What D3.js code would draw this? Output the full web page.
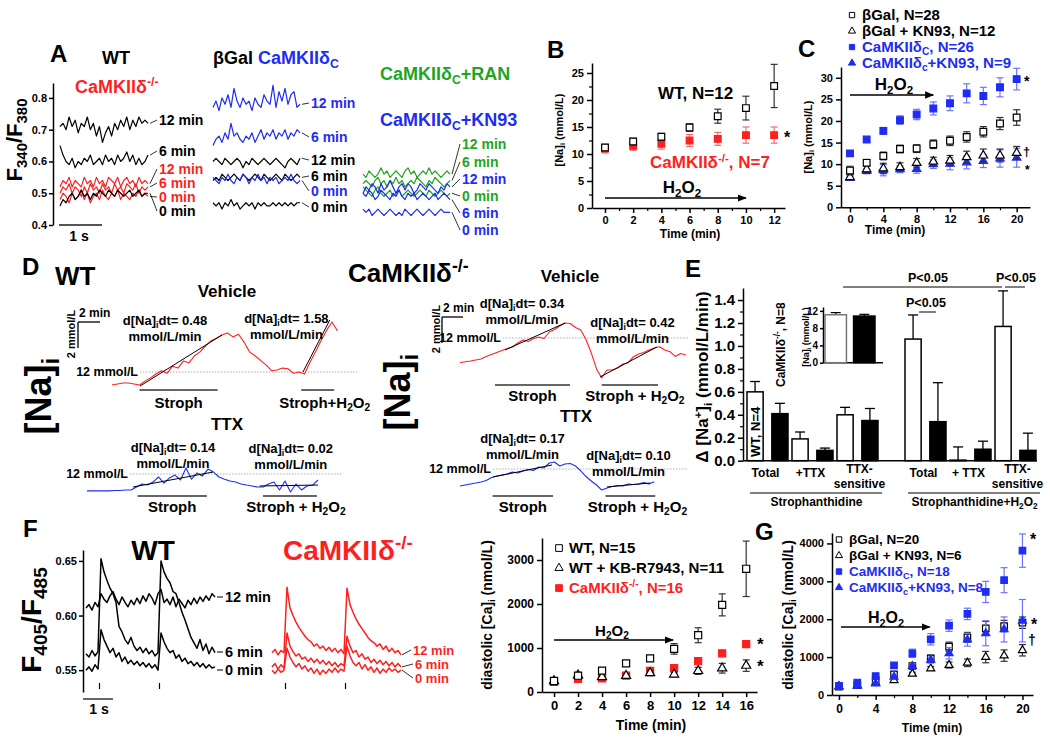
<!DOCTYPE html>
<html>
<head>
<meta charset="utf-8">
<script src="https://cdnjs.cloudflare.com/ajax/libs/d3/7.8.5/d3.min.js"></script>
<style>
  body { margin: 0; background: #fff; }
  svg text { font-family: "Liberation Sans", Arial, sans-serif; font-weight: bold; }
</style>
</head>
<body>
<script>
// Colours used all over the figure
var BLUE = "#1e2cf5", RED = "#ff1f1f", GREEN = "#1fa51f";
var BLUE_E = "#6a75ff", RED_E = "#ff6b6b", BLACK_E = "#333";

// ---------- Panel A: F340/F380 traces (one value per sample) ----------
var aWT12 = [0.71,0.72,0.70,0.74,0.71,0.73,0.69,0.72,0.71,0.74,0.70,0.72,0.68,0.71,0.66,0.69,0.71,0.68,0.72,0.70,0.73,0.71,0.74,0.70,0.73,0.71,0.74,0.72,0.73,0.72];
var aWT6 = [0.65,0.62,0.60,0.59,0.61,0.58,0.60,0.59,0.61,0.60,0.62,0.59,0.60,0.61,0.59,0.62,0.60,0.61,0.59,0.62,0.60,0.61,0.63,0.60,0.62,0.59,0.61,0.59,0.60,0.62];
var aKO12 = [0.52,0.54,0.53,0.55,0.52,0.54,0.53,0.52,0.55,0.53,0.54,0.52,0.55,0.53,0.54,0.52,0.55,0.54,0.53,0.55,0.52,0.54,0.55,0.53,0.54,0.52,0.55,0.53,0.54,0.53];
var aKO6 = [0.50,0.52,0.51,0.53,0.50,0.52,0.51,0.49,0.52,0.50,0.53,0.51,0.52,0.50,0.53,0.51,0.52,0.50,0.53,0.51,0.52,0.50,0.53,0.52,0.51,0.53,0.50,0.52,0.51,0.52];
var aKO0 = [0.48,0.50,0.49,0.47,0.50,0.48,0.49,0.51,0.48,0.50,0.47,0.49,0.50,0.48,0.51,0.49,0.48,0.50,0.49,0.51,0.48,0.50,0.49,0.48,0.50,0.49,0.51,0.49,0.50,0.49];
var aWT0 = [0.46,0.48,0.47,0.49,0.50,0.48,0.49,0.51,0.49,0.50,0.48,0.50,0.49,0.51,0.50,0.49,0.51,0.50,0.49,0.51,0.50,0.49,0.50,0.51,0.49,0.50,0.51,0.49,0.50,0.50];
var aGal12 = [0.60,0.61,0.60,0.59,0.61,0.60,0.59,0.60,0.61,0.60,0.58,0.60,0.59,0.61,0.60,0.59,0.60,0.61,0.60,0.59,0.60,0.61,0.60,0.59,0.58,0.60,0.61,0.60,0.59,0.61];
var aGal6 = [0.54,0.55,0.54,0.56,0.55,0.54,0.55,0.56,0.55,0.54,0.56,0.55,0.54,0.55,0.56,0.55,0.54,0.56,0.55,0.54,0.55,0.56,0.55,0.54,0.56,0.55,0.54,0.55,0.56,0.55];
var aGal0 = [0.47,0.46,0.47,0.45,0.47,0.46,0.48,0.46,0.47,0.45,0.46,0.47,0.46,0.47,0.45,0.47,0.46,0.47,0.46,0.46,0.47,0.46,0.47,0.46,0.47,0.46,0.47,0.46,0.47,0.47];
var aDc12 = [0.77,0.79,0.76,0.80,0.78,0.81,0.77,0.83,0.79,0.77,0.80,0.78,0.79,0.76,0.80,0.78,0.77,0.81,0.79,0.78,0.84,0.77,0.82,0.79,0.83,0.78,0.81,0.82,0.77,0.78];
var aDc6 = [0.65,0.67,0.68,0.66,0.69,0.67,0.72,0.68,0.69,0.67,0.66,0.68,0.67,0.69,0.66,0.68,0.70,0.67,0.69,0.68,0.70,0.67,0.69,0.68,0.70,0.67,0.69,0.68,0.70,0.69];
var aDc0 = [0.55,0.54,0.53,0.55,0.54,0.56,0.54,0.53,0.55,0.54,0.56,0.55,0.53,0.55,0.54,0.56,0.54,0.55,0.53,0.55,0.54,0.55,0.53,0.54,0.55,0.54,0.56,0.54,0.53,0.54];
var aRan12 = [0.56,0.55,0.57,0.56,0.55,0.56,0.58,0.56,0.57,0.55,0.56,0.57,0.56,0.55,0.57,0.58,0.56,0.57,0.55,0.56,0.57,0.56,0.58,0.56,0.57,0.56,0.55,0.56,0.57,0.56];
var aRan6 = [0.53,0.54,0.53,0.52,0.54,0.55,0.53,0.54,0.52,0.54,0.53,0.55,0.53,0.54,0.52,0.53,0.54,0.53,0.55,0.54,0.53,0.52,0.54,0.53,0.55,0.54,0.53,0.52,0.53,0.54];
var aRan0 = [0.52,0.51,0.50,0.49,0.51,0.52,0.50,0.49,0.50,0.51,0.49,0.50,0.51,0.49,0.50,0.51,0.50,0.49,0.50,0.51,0.50,0.49,0.51,0.50,0.49,0.50,0.51,0.50,0.49,0.50];
var aKn12 = [0.50,0.52,0.51,0.53,0.52,0.50,0.53,0.51,0.52,0.54,0.52,0.50,0.52,0.53,0.51,0.53,0.52,0.50,0.51,0.53,0.52,0.51,0.53,0.52,0.51,0.50,0.52,0.51,0.53,0.52];
var aKn6 = [0.50,0.49,0.51,0.50,0.48,0.49,0.51,0.50,0.49,0.48,0.50,0.49,0.51,0.49,0.48,0.50,0.49,0.50,0.48,0.49,0.50,0.49,0.48,0.49,0.50,0.48,0.49,0.50,0.49,0.48];
var aKn0 = [0.45,0.44,0.45,0.43,0.44,0.45,0.44,0.43,0.44,0.45,0.44,0.43,0.44,0.43,0.45,0.44,0.43,0.44,0.45,0.44,0.43,0.44,0.45,0.44,0.43,0.44,0.45,0.44,0.44,0.44];
var aTicks = [0.4, 0.5, 0.6, 0.7, 0.8];

// ---------- Panel B: [Na]i vs time ----------
var bTime = [0, 2, 4, 6, 8, 10, 12];
var bWT = [11.2, 12.3, 13.2, 14.9, 17.0, 18.5, 22.6];
var bWTerr = [0.5, 0.6, 0.6, 0.7, 1.3, 2.2, 4.0];
var bKO = [11.0, 11.5, 11.9, 12.5, 12.8, 13.5, 13.5];
var bKOerr = [0.8, 0.8, 1.0, 1.1, 1.2, 1.5, 1.5];

// ---------- Panel C: [Na]i vs time ----------
var cTime = [0, 2, 4, 6, 8, 10, 12, 14, 16, 18, 20];
var cGal = [8.5, 10.3, 11.9, 13.5, 13.6, 14.6, 15.4, 16.3, 17.5, 19.4, 20.8];
var cGalErr = [1.0, 0.8, 0.9, 0.9, 0.9, 1.0, 1.1, 1.2, 1.2, 1.4, 1.8];
var cGalKN = [7.0, 8.8, 9.0, 9.3, 10.3, 10.6, 10.8, 11.6, 12.0, 12.0, 12.6];
var cGalKNErr = [0.6, 1.0, 1.2, 1.0, 1.0, 1.0, 1.2, 1.4, 1.5, 1.5, 1.5];
var cDc = [12.5, 15.7, 17.7, 20.2, 21.5, 22.9, 24.1, 26.4, 25.8, 27.8, 29.7];
var cDcErr = [0.4, 0.5, 0.8, 1.0, 1.2, 1.5, 1.7, 2.2, 2.0, 2.2, 2.5];
var cDcKN = [6.8, 8.4, 8.6, 8.8, 8.9, 10.0, 10.1, 10.4, 10.7, 11.3, 11.5];
var cDcKNErr = [0.4, 0.5, 1.3, 0.8, 1.0, 1.0, 1.4, 1.5, 1.5, 2.0, 2.2];

// ---------- Panel D: [Na]i traces, one value every 0.5 min ----------
var dWTveh = [11.0,11.08,11.15,11.15,11.08,11.0,11.3,11.55,11.85,12.1,11.9,12.45,12.3,12.85,12.7,13.25,13.55,14.0,14.4,14.6,14.85,15.0,14.7,14.9,14.3,13.55,13.25,12.9,12.55,12.1,12.15,12.3,12.25,11.9,12.0,11.85,12.75,13.55,14.4,15.2,15.85,15.15];
var dWTttx = [10.7,10.7,10.7,10.7,10.7,10.73,10.73,10.77,10.77,11.0,11.23,11.15,11.38,11.77,11.3,11.7,11.92,11.54,12.46,11.6,12.08,11.85,12.38,12.15,11.77,11.6,11.46,11.38,11.23,11.15,11.08,11.0,11.0,11.23,11.38,10.77,11.46,10.62,11.23,10.77,11.08,11.15,11.54];
var dKOveh = [10.1,10.17,10.23,10.31,10.38,10.58,10.73,10.88,11.04,11.19,11.31,11.62,11.85,11.73,11.96,12.08,11.96,12.46,12.65,12.92,13.15,13.12,12.81,12.62,11.88,10.85,9.62,8.92,9.54,9.54,9.69,10.0,10.08,10.54,10.77,10.88,11.08,11.23,11.33,11.08,10.95,10.58,10.81,10.69];
var dKOttx = [10.69,10.77,10.85,10.92,11.0,11.12,11.35,11.46,11.54,11.62,11.77,11.69,11.85,11.96,11.88,12.15,12.08,12.46,12.54,12.23,12.38,12.42,12.23,11.85,11.42,11.08,10.77,10.38,10.54,10.65,10.73,10.69,10.85,10.81,10.85,10.95,10.85,11.02];
// slope fits: [t1, v1, t2, v2] in min and mmol/L
var dWTvehFits = [[2.55, 10.92, 10, 14.85], [17.36, 12.0, 19.8, 16.0]];
var dWTttxFits = [[4.18, 11.0, 11.45, 12.15], [15.7, 11.08, 21, 11.15]];
var dKOvehFits = [[4.29, 11.08, 10, 13.15], [13.33, 9.0, 18.76, 11.31]];
var dKOttxFits = [[3.14, 11.38, 8.76, 12.31], [14, 10.62, 18.1, 10.92]];
var dWTvehRates = ["0.48", "1.58"], dWTttxRates = ["0.14", "0.02"];
var dKOvehRates = ["0.34", "0.42"], dKOttxRates = ["0.17", "0.10"];

// ---------- Panel E: d[Na]/dt bars ----------
var eCats1 = ["Total", "+TTX", "TTX-sensitive"];
var eCats2 = ["Total", "+ TTX", "TTX-sensitive"];
var eStrophWT = [0.60, 0.19, 0.40], eStrophWTerr = [0.09, 0.06, 0.065];
var eStrophKO = [0.41, 0.09, 0.35], eStrophKOerr = [0.09, 0.02, 0.105];
var eH2O2WT = [1.06, 0.005, 1.17], eH2O2WTerr = [0.21, 0.115, 0.31];
var eH2O2KO = [0.34, 0.10, 0.09], eH2O2KOerr = [0.34, 0.07, 0.15];
var eTicks = [0, 0.2, 0.4, 0.6, 0.8, 1.0, 1.2, 1.4];
var eInset = [11.1, 10.8], eInsetErr = [0.5, 0.4];

// ---------- Panel F: F405/F485 traces, one value every 0.1 s ----------
var fWT12 = [0.607,0.61,0.605,0.612,0.608,0.62,0.615,0.612,0.618,0.622,0.615,0.61,0.617,0.612,0.608,0.614,0.61,0.616,0.611,0.618,0.613,0.62,0.616,0.61,0.62,0.624,0.612,0.615,0.61,0.617,0.608,0.615,0.611,0.607,0.614,0.61,0.616,0.611,0.617,0.613,0.618,0.614,0.62,0.617];
var fWT6 = [0.565,0.562,0.568,0.563,0.567,0.652,0.64,0.632,0.625,0.62,0.612,0.59,0.585,0.578,0.574,0.58,0.572,0.568,0.571,0.566,0.57,0.565,0.568,0.563,0.566,0.65,0.64,0.634,0.63,0.622,0.62,0.612,0.603,0.596,0.588,0.58,0.575,0.57,0.578,0.568,0.574,0.565,0.571,0.566];
var fWT0 = [0.55,0.553,0.549,0.555,0.551,0.587,0.578,0.572,0.566,0.57,0.562,0.566,0.558,0.562,0.556,0.559,0.555,0.558,0.554,0.557,0.553,0.556,0.552,0.555,0.55,0.584,0.576,0.57,0.566,0.568,0.561,0.564,0.558,0.561,0.556,0.558,0.554,0.557,0.553,0.556,0.552,0.555,0.552,0.553];
var fKO12 = [0.566,0.569,0.564,0.568,0.566,0.626,0.607,0.6,0.594,0.589,0.585,0.581,0.578,0.576,0.572,0.574,0.57,0.572,0.568,0.571,0.567,0.57,0.566,0.569,0.565,0.625,0.61,0.603,0.597,0.592,0.588,0.584,0.58,0.577,0.575,0.572,0.574,0.569,0.572,0.567,0.57,0.566,0.568,0.564];
var fKO6 = [0.553,0.556,0.551,0.555,0.552,0.584,0.572,0.567,0.563,0.565,0.56,0.562,0.558,0.561,0.557,0.56,0.556,0.559,0.555,0.558,0.554,0.557,0.553,0.556,0.554,0.581,0.572,0.566,0.568,0.562,0.565,0.56,0.562,0.557,0.56,0.556,0.559,0.555,0.558,0.554,0.557,0.553,0.556,0.553];
var fKO0 = [0.55,0.547,0.551,0.548,0.55,0.57,0.562,0.557,0.553,0.556,0.551,0.554,0.549,0.552,0.547,0.551,0.546,0.55,0.547,0.551,0.548,0.552,0.548,0.551,0.549,0.572,0.563,0.557,0.554,0.557,0.551,0.555,0.55,0.553,0.548,0.552,0.547,0.551,0.548,0.552,0.549,0.551,0.548,0.55];
var fStim = [0.45, 2.45];
var fTicks = [0.55, 0.60, 0.65];

// ---------- Panel F (right): diastolic [Ca]i ----------
var fTime = [0, 2, 4, 6, 8, 10, 12, 14, 16];
var fCaWT = [250, 370, 485, 650, 765, 980, 1290, 1980, 2800];
var fCaWTerr = [30, 40, 40, 50, 60, 120, 170, 250, 630];
var fCaKB = [250, 380, 340, 370, 430, 400, 480, 540, 600];
var fCaKBerr = [30, 40, 30, 40, 60, 50, 80, 110, 130];
var fCaKO = [230, 300, 310, 370, 480, 540, 700, 880, 1090];
var fCaKOerr = [30, 30, 30, 30, 50, 40, 40, 40, 70];

// ---------- Panel G: diastolic [Ca]i ----------
var gTime = [0, 2, 4, 6, 8, 10, 12, 14, 16, 18, 20];
var gGal = [220, 264, 396, 545, 765, 967, 1275, 1522, 1760, 1820, 1908];
var gGalErr = [30, 40, 60, 60, 60, 80, 120, 130, 180, 150, 150];
var gGalKN = [230, 250, 320, 390, 560, 700, 790, 850, 1000, 1040, 1180];
var gGalKNErr = [30, 30, 40, 40, 40, 50, 80, 100, 150, 150, 150];
var gDc = [240, 330, 500, 780, 1100, 1470, 1830, 2140, 2720, 3030, 3810];
var gDcErr = [30, 40, 50, 60, 110, 150, 150, 150, 280, 330, 440];
var gDcKN = [220, 240, 300, 480, 760, 920, 1100, 1460, 1630, 1730, 1960];
var gDcKNErr = [30, 30, 40, 40, 60, 80, 150, 170, 330, 330, 560];

var svg = d3.select("body").append("svg").attr("width", 1050).attr("height", 741);
svg.append("defs").append("marker").attr("id", "arrow")
   .attr("viewBox", "0 0 10 10").attr("refX", 9).attr("refY", 5)
   .attr("markerWidth", 7).attr("markerHeight", 7).attr("orient", "auto")
   .append("path").attr("d", "M0,1L10,5L0,9Z").attr("fill", "#000");

// Writes text with ^{sup} and _{sub} parts
function rich(g, str, x, y, size, color, anchor, rotate) {
  var t = g.append("text").attr("text-anchor", anchor || "start")
           .attr("fill", color || "#000").style("font-size", size + "px");
  if (rotate) t.attr("transform", "translate(" + x + "," + y + ") rotate(-90)");
  else t.attr("x", x).attr("y", y);
  var shift = 0;
  str.split(/(\^\{[^}]*\}|_\{[^}]*\})/).forEach(function(part) {
    if (!part) return;
    var want = 0, fs = size, txt = part;
    if (part[0] == "^") { want = -0.38 * size; fs = 0.68 * size; txt = part.slice(2, -1); }
    if (part[0] == "_") { want = 0.22 * size; fs = 0.68 * size; txt = part.slice(2, -1); }
    t.append("tspan").attr("dy", want - shift).style("font-size", fs + "px").text(txt);
    shift = want;
  });
  return t;
}

function line(g, x1, y1, x2, y2, color, w) {
  return g.append("line").attr("x1", x1).attr("y1", y1).attr("x2", x2).attr("y2", y2)
          .attr("stroke", color || "#000").attr("stroke-width", w || 1);
}

// Draws an axis and makes it bold
function drawAxis(g, axis, tx, ty, fs) {
  var a = g.append("g").attr("transform", "translate(" + tx + "," + ty + ")").call(axis);
  a.select(".domain").attr("stroke-width", 1.5);
  a.selectAll(".tick line").attr("stroke-width", 1.5);
  a.selectAll(".tick text").style("font-size", fs + "px");
  return a;
}
function minorTicks(g, axis, tx, ty) {
  var a = g.append("g").attr("transform", "translate(" + tx + "," + ty + ")")
           .call(axis.tickSize(3).tickFormat(""));
  a.select(".domain").remove();
  a.selectAll(".tick line").attr("stroke-width", 1.2);
}

// Plots a trace, sample i at x(i * step)
function trace(g, vals, x, y, step, color, w) {
  var l = d3.line().x(function(d, i) { return x(i * step); }).y(function(d) { return y(d); });
  g.append("path").datum(vals).attr("d", l).attr("fill", "none")
   .attr("stroke", color).attr("stroke-width", w || 1.2).attr("stroke-linejoin", "round");
}

// Plots one mean +/- error series
function series(g, x, y, times, s) {
  var eg = g.append("g").attr("stroke", s.ecolor).attr("stroke-width", 1.2);
  eg.selectAll(null).data(times).enter().append("line")
    .attr("x1", function(d) { return x(d); }).attr("x2", function(d) { return x(d); })
    .attr("y1", function(d, i) { return y(s.v[i] - s.e[i]); })
    .attr("y2", function(d, i) { return y(s.v[i] + s.e[i]); });
  [1, -1].forEach(function(sign) {
    eg.selectAll(null).data(times).enter().append("line")
      .attr("x1", function(d) { return x(d) - 3.5; }).attr("x2", function(d) { return x(d) + 3.5; })
      .attr("y1", function(d, i) { return y(s.v[i] + sign * s.e[i]); })
      .attr("y2", function(d, i) { return y(s.v[i] + sign * s.e[i]); });
  });
  g.selectAll(null).data(times).enter().append("path")
   .attr("d", d3.symbol().type(s.sym).size(s.size))
   .attr("transform", function(d, i) { return "translate(" + x(d) + "," + y(s.v[i]) + ")"; })
   .attr("fill", s.fill).attr("stroke", s.color).attr("stroke-width", 1.2);
}

function legend(g, items, x, y0, dy, fs) {
  items.forEach(function(it, i) {
    var y = y0 + i * dy;
    g.append("path").attr("d", d3.symbol().type(it.sym).size(it.msize)())
     .attr("transform", "translate(" + x + "," + (y - fs * 0.33) + ")")
     .attr("fill", it.fill).attr("stroke", it.color).attr("stroke-width", 1);
    rich(g, it.text, x + 10, y, fs, it.tcolor);
  });
}

function arrow(g, x1, x2, y) {
  line(g, x1, y, x2, y, "#000", 1.3).attr("marker-end", "url(#arrow)");
}

// ================= Panel A =================
function panelA() {
  var g = svg.append("g");
  var y = d3.scaleLinear().domain([0.4, 0.847]).range([225, 83]);
  drawAxis(g, d3.axisLeft(y).tickValues(aTicks).tickFormat(d3.format(".1f"))
              .tickSize(4).tickSizeOuter(0).tickPadding(2), 53, 0, 11);
  rich(g, "F_{340}/F_{380}", 22, 140, 22, "#000", "middle", true);
  rich(g, "A", 50, 62, 24);
  rich(g, "WT", 116, 64, 18, "#000", "middle");
  rich(g, "CaMKII\u03b4^{-/-}", 75, 93, 18, RED);
  rich(g, "\u03b2Gal", 213, 64, 18);
  rich(g, "CaMKII\u03b4_{C}", 258, 64, 18, BLUE);
  rich(g, "CaMKII\u03b4_{C}+RAN", 380, 80, 18, GREEN);
  rich(g, "CaMKII\u03b4_{C}+KN93", 380, 126, 18, BLUE);
  line(g, 59, 225, 102, 225, "#555", 2);
  rich(g, "1 s", 79, 241, 14, "#000", "middle");

  var groups = [
    {x0: 60, x1: 148, lx: 159, items: [
      [aWT12, "#000", "12 min", 125], [aWT6, "#000", "6 min", 156],
      [aKO12, RED, "12 min", 174], [aKO6, RED, "6 min", 188],
      [aKO0, RED, "0 min", 202], [aWT0, "#000", "0 min", 216]]},
    {x0: 213, x1: 300, lx: 311, items: [
      [aGal12, "#000", "12 min", 165], [aGal6, "#000", "6 min", 181],
      [aGal0, "#000", "0 min", 212], [aDc12, BLUE, "12 min", 108],
      [aDc6, BLUE, "6 min", 142], [aDc0, BLUE, "0 min", 196]]},
    {x0: 363, x1: 450, lx: 462, items: [
      [aRan12, GREEN, "12 min", 149], [aRan6, GREEN, "6 min", 167],
      [aRan0, GREEN, "0 min", 201], [aKn12, BLUE, "12 min", 184],
      [aKn6, BLUE, "6 min", 218], [aKn0, BLUE, "0 min", 235]]}
  ];
  groups.forEach(function(grp) {
    grp.items.forEach(function(it) {
      var x = d3.scaleLinear().domain([0, it[0].length - 1]).range([grp.x0, grp.x1]);
      trace(g, it[0], x, y, 1, it[1], 1.2);
      line(g, grp.x1 + 2, y(it[0][it[0].length - 1]), grp.lx - 2, it[3] - 5, "#000", 0.8);
      rich(g, it[2], grp.lx, it[3], 14, it[1]);
    });
  });
}

// ================= Panel B =================
function panelB() {
  var g = svg.append("g");
  var x = d3.scaleLinear().domain([-0.92, 12.77]).range([592, 785]);
  var y = d3.scaleLinear().domain([0, 26.85]).range([208, 63]);
  drawAxis(g, d3.axisLeft(y).tickValues([0, 5, 10, 15, 20, 25]).tickSize(5).tickSizeOuter(0).tickPadding(3), 592, 0, 11);
  minorTicks(g, d3.axisLeft(y).tickValues([2.5, 7.5, 12.5, 17.5, 22.5]), 592, 0);
  drawAxis(g, d3.axisBottom(x).tickValues(bTime).tickSize(5).tickSizeOuter(0), 0, 208, 11);
  minorTicks(g, d3.axisBottom(x).tickValues([1, 3, 5, 7, 9, 11]), 0, 208);
  rich(g, "B", 547, 58, 24);
  rich(g, "[Na]_{i} (mmol/L)", 563, 130, 11, "#000", "middle", true);
  rich(g, "Time (min)", 690, 238, 12, "#000", "middle");
  series(g, x, y, bTime, {v: bKO, e: bKOerr, sym: d3.symbolSquare, size: 45, color: RED, fill: RED, ecolor: RED_E});
  series(g, x, y, bTime, {v: bWT, e: bWTerr, sym: d3.symbolSquare, size: 45, color: "#000", fill: "#fff", ecolor: BLACK_E});
  rich(g, "WT, N=12", 658, 99, 17);
  rich(g, "CaMKII\u03b4^{-/-}, N=7", 650, 168, 17, RED);
  rich(g, "H_{2}O_{2}", 682, 193, 17, "#000", "middle");
  arrow(g, x(0), x(10), 198);
  rich(g, "*", 784, 143, 16);
}

// ================= Panel C =================
function panelC() {
  var g = svg.append("g");
  var x = d3.scaleLinear().domain([-1.08, 21.6]).range([841, 1030]);
  var y = d3.scaleLinear().domain([0, 32.5]).range([207.3, 67]);
  drawAxis(g, d3.axisLeft(y).tickValues([0, 5, 10, 15, 20, 25, 30]).tickSize(5).tickSizeOuter(0).tickPadding(3), 841, 0, 11);
  drawAxis(g, d3.axisBottom(x).tickValues([0, 4, 8, 12, 16, 20]).tickSize(5).tickSizeOuter(0), 0, 207.3, 11);
  minorTicks(g, d3.axisBottom(x).tickValues([2, 6, 10, 14, 18]), 0, 207.3);
  rich(g, "C", 798, 57, 24);
  rich(g, "[Na]_{i} (mmol/L)", 812, 137, 11, "#000", "middle", true);
  rich(g, "Time (min)", 895, 234, 12, "#000", "middle");
  legend(g, [
    {sym: d3.symbolSquare, msize: 28, fill: "#fff", color: "#000", text: "\u03b2Gal, N=28", tcolor: "#000"},
    {sym: d3.symbolTriangle, msize: 22, fill: "#fff", color: "#000", text: "\u03b2Gal + KN93, N=12", tcolor: "#000"},
    {sym: d3.symbolSquare, msize: 28, fill: BLUE, color: BLUE, text: "CaMKII\u03b4_{C}, N=26", tcolor: BLUE},
    {sym: d3.symbolTriangle, msize: 22, fill: BLUE, color: BLUE, text: "CaMKII\u03b4_{c}+KN93, N=9", tcolor: BLUE}
  ], 852, 20, 16, 15);
  series(g, x, y, cTime, {v: cDcKN, e: cDcKNErr, sym: d3.symbolTriangle, size: 30, color: BLUE, fill: BLUE, ecolor: BLUE_E});
  series(g, x, y, cTime, {v: cGalKN, e: cGalKNErr, sym: d3.symbolTriangle, size: 32, color: "#000", fill: "#fff", ecolor: BLACK_E});
  series(g, x, y, cTime, {v: cGal, e: cGalErr, sym: d3.symbolSquare, size: 45, color: "#000", fill: "#fff", ecolor: BLACK_E});
  series(g, x, y, cTime, {v: cDc, e: cDcErr, sym: d3.symbolSquare, size: 45, color: BLUE, fill: BLUE, ecolor: BLUE_E});
  rich(g, "H_{2}O_{2}", 894, 90, 17, "#000", "middle");
  arrow(g, x(0), x(10), 95);
  rich(g, "*", 1024, 86, 14);
  rich(g, "\u2020", 1023, 156, 13);
  rich(g, "*", 1025, 174, 12);
}

// ================= Panel D =================
function naTrace(g, cfg) {
  var y = d3.scaleLinear().domain([12, 14]).range([cfg.y12, cfg.y12 - 26]);
  var x = cfg.x;
  // dashed 12 mmol/L reference
  line(g, cfg.ref[0], y(12), cfg.ref[1], y(12), "#999", 0.8).attr("stroke-dasharray", "1.5,1.5");
  rich(g, "12 mmol/L", cfg.ref[0] - 2, y(12) + 4, 12.5, "#000", "end");
  trace(g, cfg.vals, x, y, 0.5, cfg.color, 1.1);
  cfg.fits.forEach(function(f, i) {
    line(g, x(f[0]), y(f[1]), x(f[2]), y(f[3]), "#000", 1);
    var cx = (x(f[0]) + x(f[2])) / 2 + cfg.lab[i][0];
    rich(g, "d[Na]_{i}dt= " + cfg.rates[i], cx, cfg.lab[i][1], 13, "#000", "middle");
    rich(g, "mmol/L/min", cx, cfg.lab[i][1] + 16, 13, "#000", "middle");
  });
  cfg.bars.forEach(function(b, i) {
    line(g, x(b[0]), cfg.barY, x(b[1]), cfg.barY, "#666", 2);
    rich(g, cfg.names[i], (x(b[0]) + x(b[1])) / 2 + cfg.nameDx[i], cfg.barY + cfg.nameDy, 15, "#000", "middle");
  });
  return {x: x, y: y};
}

function panelD() {
  var g = svg.append("g");
  rich(g, "D", 22, 275, 24);
  rich(g, "WT", 55, 285, 26);
  rich(g, "CaMKII\u03b4^{-/-}", 348, 282, 26);
  rich(g, "Vehicle", 227, 297, 17, "#000", "middle");
  rich(g, "Vehicle", 570, 282, 17, "#000", "middle");
  rich(g, "TTX", 227, 430, 17, "#000", "middle");
  rich(g, "TTX", 576, 422, 17, "#000", "middle");
  rich(g, "[Na]_{i}", 51, 396, 36, "#000", "middle", true);
  rich(g, "[Na]_{i}", 410, 392, 36, "#000", "middle", true);

  var wv = naTrace(g, {vals: dWTveh, x: d3.scaleLinear().domain([0, 20.5]).range([112, 337.5]), y12: 372,
    color: RED, ref: [140, 357], fits: dWTvehFits, rates: dWTvehRates,
    lab: [[-16, 325], [-30, 323]], bars: [[2.5, 9.6], [17.2, 20.2]], barY: 390,
    names: ["Stroph", "Stroph+H_{2}O_{2}"], nameDx: [0, 7], nameDy: 18});
  naTrace(g, {vals: dWTttx, x: d3.scaleLinear().domain([0, 21]).range([87, 318]), y12: 474,
    color: BLUE, ref: [130, 342], fits: dWTttxFits, rates: dWTttxRates,
    lab: [[0, 452], [2, 453]], bars: [[4.6, 10.9], [16.0, 20.9]], barY: 496,
    names: ["Stroph", "Stroph + H_{2}O_{2}"], nameDx: [0, 6], nameDy: 16});
  var kv = naTrace(g, {vals: dKOveh, x: d3.scaleLinear().domain([0, 21.5]).range([460, 685.75]), y12: 338,
    color: RED, ref: [503, 688], fits: dKOvehFits, rates: dKOvehRates,
    lab: [[-13, 308], [4, 327]], bars: [[3.33, 10.48], [13.5, 18.86]], barY: 385,
    names: ["Stroph", "Stroph + H_{2}O_{2}"], nameDx: [0, 5], nameDy: 16});
  naTrace(g, {vals: dKOttx, x: d3.scaleLinear().domain([0, 18.5]).range([460, 654.25]), y12: 469,
    color: BLUE, ref: [493, 688], fits: dKOttxFits, rates: dKOttxRates,
    lab: [[0, 443], [0, 460]], bars: [[3.1, 8.86], [13.86, 18.6]], barY: 496,
    names: ["Stroph", "Stroph + H_{2}O_{2}"], nameDx: [0, 7], nameDy: 16});

  // scale bars: 2 min and 2 mmol/L
  [[wv, 78, 322, 75, 317], [kv, 442, 317, 440, 312]].forEach(function(s) {
    var dx = s[0].x(2) - s[0].x(0), dy = s[0].y(12) - s[0].y(14);
    line(g, s[1], s[2], s[1], s[2] + dy, "#000", 1.3);
    line(g, s[1], s[2], s[1] + dx, s[2], "#000", 1.3);
    rich(g, "2 min", s[1] + 1, s[4], 12);
    rich(g, "2 mmol/L", s[3], s[2] + 12, 11, "#000", "middle", true);
  });
}

// ================= Panel E =================
function panelE() {
  var g = svg.append("g");
  var y = d3.scaleLinear().domain([0, 1.505]).range([460.7, 288]);
  drawAxis(g, d3.axisLeft(y).tickValues(eTicks).tickFormat(d3.format(".1f")).tickSize(5).tickSizeOuter(0).tickPadding(3), 743, 0, 15);
  minorTicks(g, d3.axisLeft(y).tickValues([0.1, 0.3, 0.5, 0.7, 0.9, 1.1, 1.3]), 743, 0);
  line(g, 743, y(0), 1037, y(0), "#000", 1.5);
  rich(g, "E", 685, 277, 24);
  rich(g, "\u0394 [Na^{+}]_{i} (mmol/L/min)", 708, 377, 17, "#000", "middle", true);

  var groups = [
    {cats: eCats1, range: [745, 880], wt: eStrophWT, wtE: eStrophWTerr, ko: eStrophKO, koE: eStrophKOerr,
     title: "Strophanthidine"},
    {cats: eCats2, range: [903, 1038], wt: eH2O2WT, wtE: eH2O2WTerr, ko: eH2O2KO, koE: eH2O2KOerr,
     title: "Strophanthidine+H_{2}O_{2}"}
  ];
  var centers = [];
  groups.forEach(function(grp) {
    var band = d3.scaleBand().domain(grp.cats).range(grp.range);
    var sub = d3.scaleBand().domain(["WT", "KO"]).range([2, band.bandwidth() - 2]).paddingInner(0.35);
    var c = {};
    grp.cats.forEach(function(cat, i) {
      [["WT", grp.wt, grp.wtE, "#fff"], ["KO", grp.ko, grp.koE, "#000"]].forEach(function(b) {
        var x0 = band(cat) + sub(b[0]), w = sub.bandwidth(), cx = x0 + w / 2;
        var v = b[1][i], e = b[2][i];
        line(g, cx, y(v), cx, y(v + e), "#000", 1.3);
        line(g, cx - 5, y(v + e), cx + 5, y(v + e), "#000", 1.3);
        g.append("rect").attr("x", x0).attr("y", y(v)).attr("width", w)
         .attr("height", Math.max(y(0) - y(v), 0.5)).attr("fill", b[3])
         .attr("stroke", "#000").attr("stroke-width", 1.5);
        c[cat + b[0]] = cx;
      });
      var lx = band(cat) + band.bandwidth() / 2;
      if (cat == "TTX-sensitive") {
        rich(g, "TTX-", lx + 2, 473, 12, "#000", "middle");
        rich(g, "sensitive", lx + 2, 488, 12, "#000", "middle");
      } else {
        rich(g, cat, lx - 2, 477, 12, "#000", "middle");
      }
    });
    line(g, grp.range[0] + 5, 493, grp.range[1] + 2, 493, "#000", 1);
    rich(g, grp.title, (grp.range[0] + grp.range[1]) / 2 + 4, 506, 12, "#000", "middle");
    centers.push(c);
  });

  // significance marks
  var a = centers[0]["TTX-sensitiveWT"] - 2, b = centers[1]["TTX-sensitiveWT"] - 1;
  line(g, a, 287, b, 287, "#000", 1);
  rich(g, "P<0.05", 928, 282, 12.5, "#000", "middle");
  var c1 = centers[1]["TTX-sensitiveWT"] + 2, c2 = centers[1]["TTX-sensitiveKO"] - 3;
  line(g, c1, 287, c2, 287, "#000", 1);
  rich(g, "P<0.05", 1016, 282, 12.5, "#000", "middle");
  var t1 = centers[1]["TotalWT"] + 6, t2 = centers[1]["TotalKO"] - 2;
  line(g, t1, 312, t2, 312, "#000", 1);
  rich(g, "P<0.05", 926, 307, 12.5, "#000", "middle");

  // n labels written inside bars
  rich(g, "WT, N=4", centers[0]["TotalWT"] + 5, 457, 13, "#000", "start", true);
  rich(g, "CaMKII\u03b4^{-/-}, N=8", centers[0]["TotalKO"] + 5, 387, 12, "#000", "start", true);

  // inset: resting [Na]i
  var iy = d3.scaleLinear().domain([0, 12.9]).range([362.7, 307]);
  drawAxis(g, d3.axisLeft(iy).tickValues([0, 4, 8, 12]).tickSize(3).tickSizeOuter(0).tickPadding(2), 823, 0, 10);
  line(g, 823, iy(0), 883, iy(0), "#000", 1.5);
  rich(g, "[Na]_{i} (mmol/L)", 809, 337, 9, "#000", "middle", true);
  var ib = d3.scaleBand().domain(["WT", "KO"]).range([825, 875]).paddingInner(0.25);
  ["WT", "KO"].forEach(function(k, i) {
    var cx = ib(k) + ib.bandwidth() / 2;
    line(g, cx, iy(eInset[i]), cx, iy(eInset[i] + eInsetErr[i]), "#000", 1.2);
    line(g, cx - 5, iy(eInset[i] + eInsetErr[i]), cx + 5, iy(eInset[i] + eInsetErr[i]), "#000", 1.2);
    g.append("rect").attr("x", ib(k)).attr("y", iy(eInset[i])).attr("width", ib.bandwidth())
     .attr("height", iy(0) - iy(eInset[i])).attr("fill", i ? "#000" : "#fff")
     .attr("stroke", i ? "#000" : "#777").attr("stroke-width", 1.5);
  });
}

// ================= Panel F =================
function panelF() {
  var g = svg.append("g");
  var y = d3.scaleLinear().domain([0.53, 0.66]).range([692, 550]);
  drawAxis(g, d3.axisLeft(y).tickValues(fTicks).tickFormat(d3.format(".2f")).tickSize(4).tickSizeOuter(0).tickPadding(2), 83, 0, 11);
  rich(g, "F", 23, 537, 24);
  rich(g, "WT", 153, 560, 28, "#000", "middle");
  rich(g, "CaMKII\u03b4^{-/-}", 283, 560, 28, RED);
  rich(g, "F_{405}/F_{485}", 41, 620, 28, "#000", "middle", true);
  line(g, 83, 699, 113, 699, "#000", 1.2);
  rich(g, "1 s", 99, 714, 14, "#000", "middle");

  var xw = d3.scaleLinear().domain([0, 4.3]).range([86, 215]);
  var xk = d3.scaleLinear().domain([0, 4.3]).range([272, 401]);
  [[fWT12, "12 min", 602], [fWT6, "6 min", 657], [fWT0, "0 min", 675]].forEach(function(t) {
    trace(g, t[0], xw, y, 0.1, "#000", 1.5);
    line(g, 217, t[2] - 5, 223, t[2] - 5, "#000", 1);
    rich(g, t[1], 225, t[2], 14.5);
  });
  [[fKO12, "12 min", 413, 655], [fKO6, "6 min", 415, 669], [fKO0, "0 min", 415, 683]].forEach(function(t) {
    trace(g, t[0], xk, y, 0.1, RED, 1.5);
    line(g, 402, y(t[0][t[0].length - 1]), t[2] - 2, t[3] - 5, "#000", 0.8);
    rich(g, t[1], t[2], t[3], 13, RED);
  });
  fStim.forEach(function(s) {
    line(g, xw(s), 683, xw(s), 689, "#000", 1.2);
    line(g, xk(s), 683, xk(s), 689, "#000", 1.2);
  });
}

// ================= Panel F right: diastolic Ca =================
function panelFCa() {
  var g = svg.append("g");
  var x = d3.scaleLinear().domain([-1, 16.9]).range([542, 757]);
  var y = d3.scaleLinear().domain([0, 3500]).range([692, 538]);
  drawAxis(g, d3.axisLeft(y).tickValues([0, 1000, 2000, 3000]).tickFormat(d3.format("d"))
              .tickSize(5).tickSizeOuter(0).tickPadding(3), 542, 0, 12);
  drawAxis(g, d3.axisBottom(x).tickValues(fTime).tickSize(5).tickSizeOuter(0).tickPadding(4), 0, 692, 13);
  rich(g, "diastolic [Ca]_{i} (nmol/L)", 492, 615, 14, "#000", "middle", true);
  rich(g, "Time (min)", 651, 730, 14, "#000", "middle");
  legend(g, [
    {sym: d3.symbolSquare, msize: 45, fill: "#fff", color: "#000", text: "WT, N=15", tcolor: "#000"},
    {sym: d3.symbolTriangle, msize: 30, fill: "#fff", color: "#000", text: "WT + KB-R7943, N=11", tcolor: "#000"},
    {sym: d3.symbolSquare, msize: 45, fill: RED, color: RED, text: "CaMKII\u03b4^{-/-}, N=16", tcolor: RED}
  ], 559, 553, 20, 15);
  series(g, x, y, fTime, {v: fCaKO, e: fCaKOerr, sym: d3.symbolSquare, size: 50, color: RED, fill: RED, ecolor: RED_E});
  series(g, x, y, fTime, {v: fCaKB, e: fCaKBerr, sym: d3.symbolTriangle, size: 36, color: "#000", fill: "#fff", ecolor: BLACK_E});
  series(g, x, y, fTime, {v: fCaWT, e: fCaWTerr, sym: d3.symbolSquare, size: 50, color: "#000", fill: "#fff", ecolor: BLACK_E});
  rich(g, "H_{2}O_{2}", 612, 636, 15, "#000", "middle");
  arrow(g, x(0), x(10) - 1, 640);
  rich(g, "*", 757, 650, 17);
  rich(g, "*", 757, 672, 17);
}

// ================= Panel G =================
function panelG() {
  var g = svg.append("g");
  var x = d3.scaleLinear().domain([-0.76, 21.15]).range([832, 1033]);
  var y = d3.scaleLinear().domain([0, 4275]).range([695, 533]);
  drawAxis(g, d3.axisLeft(y).tickValues([0, 1000, 2000, 3000, 4000]).tickFormat(d3.format("d"))
              .tickSize(5).tickSizeOuter(0).tickPadding(3), 832, 0, 11);
  drawAxis(g, d3.axisBottom(x).tickValues([0, 4, 8, 12, 16, 20]).tickSize(5).tickSizeOuter(0).tickPadding(4), 0, 695, 12);
  minorTicks(g, d3.axisBottom(x).tickValues([2, 6, 10, 14, 18]), 0, 695);
  rich(g, "G", 755, 540, 24);
  rich(g, "diastolic [Ca]_{i} (nmol/L)", 793, 615, 14, "#000", "middle", true);
  rich(g, "Time (min)", 932, 732, 12, "#000", "middle");
  legend(g, [
    {sym: d3.symbolSquare, msize: 30, fill: "#fff", color: "#000", text: "\u03b2Gal, N=20", tcolor: "#000"},
    {sym: d3.symbolTriangle, msize: 22, fill: "#fff", color: "#000", text: "\u03b2Gal + KN93, N=6", tcolor: "#000"},
    {sym: d3.symbolSquare, msize: 30, fill: BLUE, color: BLUE, text: "CaMKII\u03b4_{C}, N=18", tcolor: BLUE},
    {sym: d3.symbolTriangle, msize: 22, fill: BLUE, color: BLUE, text: "CaMKII\u03b4_{c}+KN93, N=8", tcolor: BLUE}
  ], 839, 544, 16, 13.5);
  series(g, x, y, gTime, {v: gGalKN, e: gGalKNErr, sym: d3.symbolTriangle, size: 28, color: "#000", fill: "#fff", ecolor: BLACK_E});
  series(g, x, y, gTime, {v: gGal, e: gGalErr, sym: d3.symbolSquare, size: 42, color: "#000", fill: "#fff", ecolor: BLACK_E});
  series(g, x, y, gTime, {v: gDcKN, e: gDcKNErr, sym: d3.symbolTriangle, size: 28, color: BLUE, fill: BLUE, ecolor: BLUE_E});
  series(g, x, y, gTime, {v: gDc, e: gDcErr, sym: d3.symbolSquare, size: 42, color: BLUE, fill: BLUE, ecolor: BLUE_E});
  rich(g, "H_{2}O_{2}", 886, 623, 16, "#000", "middle");
  arrow(g, x(0) + 2, x(10) - 1, 627);
  rich(g, "*", 1030, 545, 16);
  rich(g, "*", 1031, 630, 16);
  rich(g, "\u2020", 1028, 645, 14);
}

panelA();
panelB();
panelC();
panelD();
panelE();
panelF();
panelFCa();
panelG();
</script>
</body>
</html>
